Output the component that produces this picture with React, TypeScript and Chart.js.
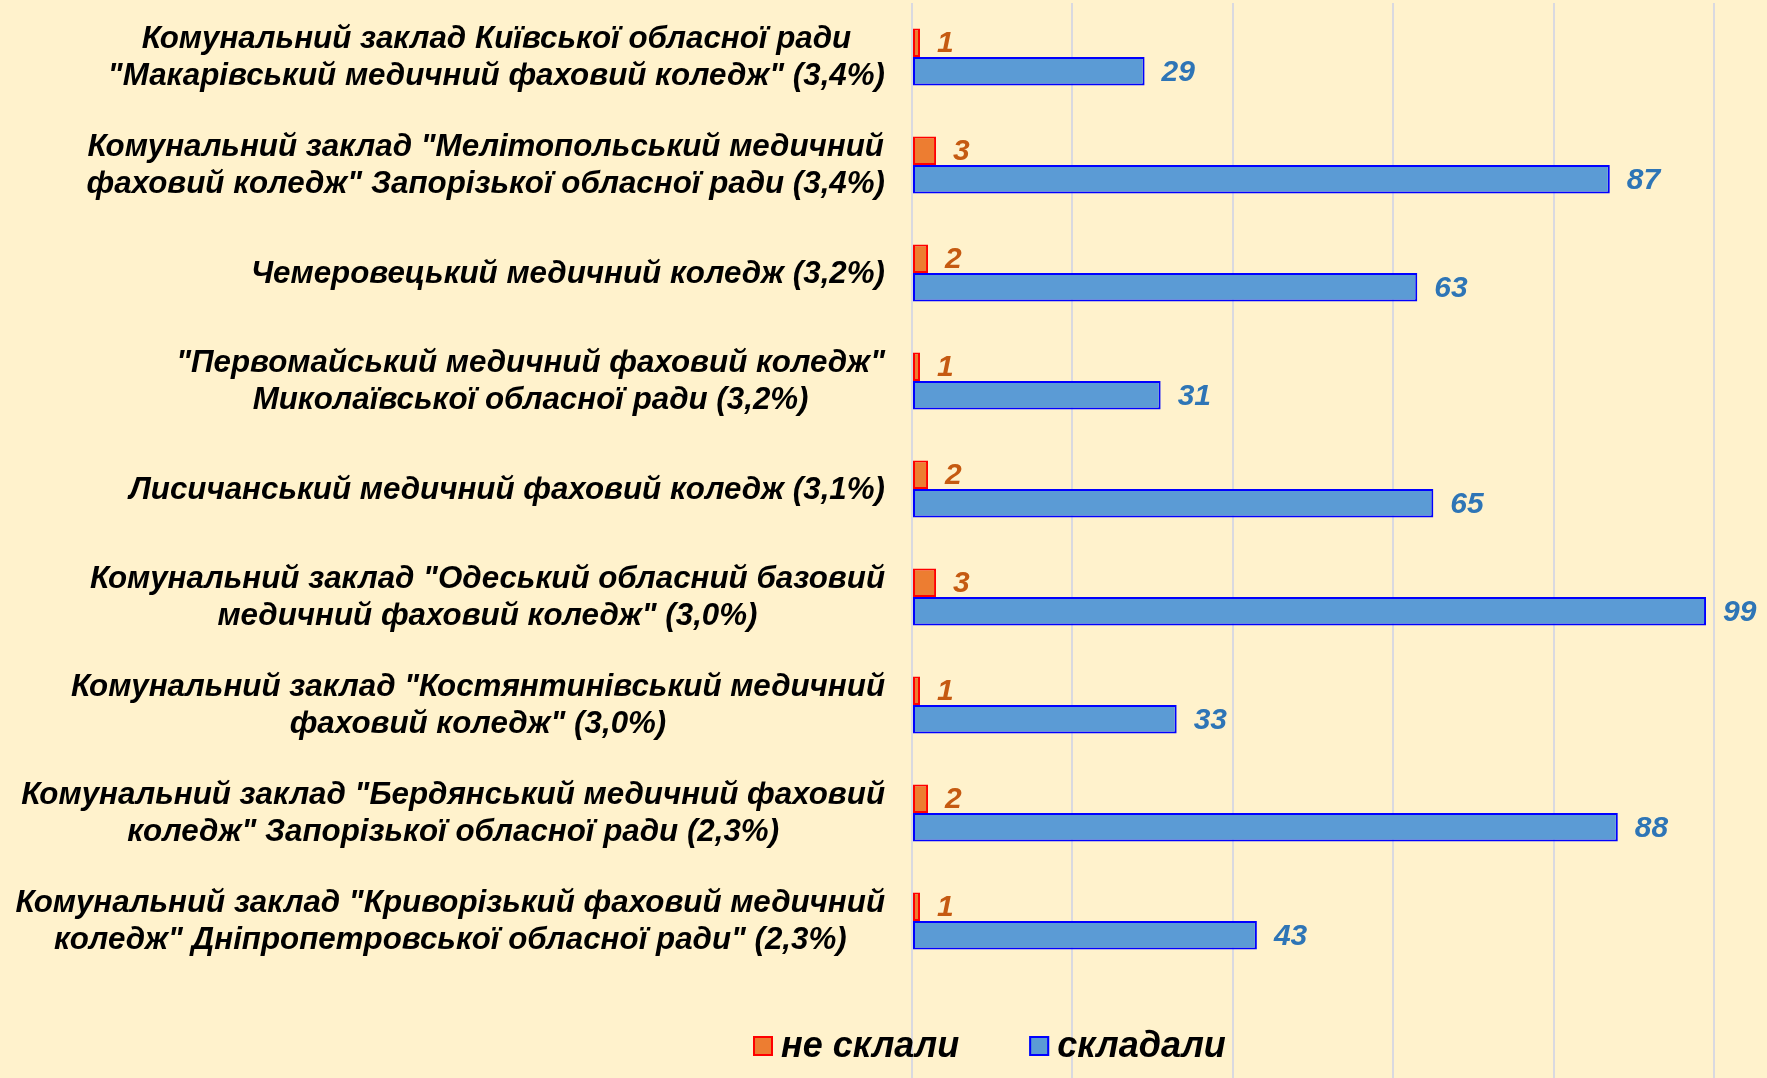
import React, { useEffect, useRef } from 'react';
import { Chart, registerables } from 'chart.js';

Chart.register(...registerables);

const categories: string[][] = [
  ['Комунальний заклад Київської обласної ради', '"Макарівський медичний фаховий коледж" (3,4%)'],
  ['Комунальний заклад "Мелітопольський медичний', 'фаховий коледж" Запорізької обласної ради (3,4%)'],
  ['Чемеровецький медичний коледж (3,2%)'],
  ['"Первомайський медичний фаховий коледж"', 'Миколаївської обласної ради (3,2%)'],
  ['Лисичанський медичний фаховий коледж (3,1%)'],
  ['Комунальний заклад "Одеський обласний базовий', 'медичний фаховий коледж" (3,0%)'],
  ['Комунальний заклад "Костянтинівський медичний', 'фаховий коледж" (3,0%)'],
  ['Комунальний заклад "Бердянський медичний фаховий', 'коледж" Запорізької обласної ради (2,3%)'],
  ['Комунальний заклад "Криворізький фаховий медичний', 'коледж" Дніпропетровської обласної ради" (2,3%)'],
];

const seriesNames = ['не склали', 'складали'];
const failedValues = [1, 3, 2, 1, 2, 3, 1, 2, 1];
const takenValues = [29, 87, 63, 31, 65, 99, 33, 88, 43];
const gridTicks = [0, 20, 40, 60, 80, 100];

const FONT = "'Liberation Sans', Arial, sans-serif";
const BG = '#FFF2CC';
const GRID = '#D9D9E0';
const labelColors = ['#C55A11', '#2E75B6'];

const extendGrid = {
  id: 'extendGrid',
  beforeDraw(chart: any) {
    const { ctx, chartArea, scales } = chart;
    const x = scales.x;
    ctx.save();
    ctx.strokeStyle = GRID;
    ctx.lineWidth = 2;
    for (const t of gridTicks) {
      const px = Math.round(x.getPixelForValue(t));
      ctx.beginPath();
      ctx.moveTo(px, chartArea.bottom);
      ctx.lineTo(px, chart.height);
      ctx.stroke();
    }
    ctx.restore();
  },
};

const categoryLabels = {
  id: 'categoryLabels',
  afterDraw(chart: any) {
    const { ctx, scales } = chart;
    const y = scales.y;
    const labels = chart.data.labels as string[][];
    ctx.save();
    ctx.font = `italic bold 31.3px ${FONT}`;
    ctx.fillStyle = '#000000';
    ctx.textAlign = 'center';
    ctx.textBaseline = 'middle';
    const right = y.right - 27;
    labels.forEach((lines, i) => {
      const cy = y.getPixelForValue(i);
      const w = Math.max(...lines.map((l) => ctx.measureText(l).width));
      const cx = right - w / 2;
      lines.forEach((l, j) => {
        ctx.fillText(l, cx, cy + 1 + (j - (lines.length - 1) / 2) * 36.5);
      });
    });
    ctx.restore();
  },
};

const valueLabels = {
  id: 'valueLabels',
  afterDatasetsDraw(chart: any) {
    const { ctx } = chart;
    ctx.save();
    ctx.font = `italic bold 30px ${FONT}`;
    ctx.textAlign = 'left';
    ctx.textBaseline = 'middle';
    chart.data.datasets.forEach((ds: any, i: number) => {
      const meta = chart.getDatasetMeta(i);
      ctx.fillStyle = labelColors[i];
      meta.data.forEach((bar: any, j: number) => {
        ctx.fillText(String(ds.data[j]), bar.x + 17, bar.y + 1);
      });
    });
    ctx.restore();
  },
};

const customLegend = {
  id: 'customLegend',
  afterDraw(chart: any) {
    const { ctx } = chart;
    ctx.save();
    ctx.font = `italic bold 36px ${FONT}`;
    ctx.textAlign = 'left';
    ctx.textBaseline = 'middle';
    const cy = chart.height - 32;
    let x = 753;
    chart.data.datasets.forEach((ds: any) => {
      ctx.fillStyle = ds.backgroundColor;
      ctx.fillRect(x, cy - 10, 20, 20);
      ctx.strokeStyle = ds.borderColor;
      ctx.lineWidth = 2;
      ctx.strokeRect(x + 1, cy - 9, 18, 18);
      ctx.fillStyle = '#000000';
      ctx.fillText(ds.label, x + 28, cy + 1);
      x += 28 + ctx.measureText(ds.label).width + 70;
    });
    ctx.restore();
  },
};

export default function App() {
  const canvasRef = useRef<HTMLCanvasElement | null>(null);

  useEffect(() => {
    if (!canvasRef.current) return;
    const chart = new Chart(canvasRef.current, {
      type: 'bar',
      data: {
        labels: categories,
        datasets: [
          {
            label: seriesNames[0],
            data: failedValues,
            backgroundColor: '#ED7D31',
            borderColor: '#FF0000',
            borderWidth: 2,
            borderSkipped: false,
            categoryPercentage: 0.53,
            barPercentage: 1,
          },
          {
            label: seriesNames[1],
            data: takenValues,
            backgroundColor: '#5B9BD5',
            borderColor: '#0000FF',
            borderWidth: 2,
            borderSkipped: false,
            categoryPercentage: 0.53,
            barPercentage: 1,
          },
        ],
      },
      options: {
        indexAxis: 'y',
        responsive: true,
        maintainAspectRatio: false,
        animation: false,
        layout: { padding: { top: 3, bottom: 103, left: 0, right: 0 } },
        plugins: {
          legend: { display: false },
          tooltip: { enabled: false },
        },
        scales: {
          x: {
            type: 'linear',
            min: 0,
            max: 106.6,
            grid: { color: GRID, lineWidth: 2, drawTicks: false },
            border: { display: false },
            ticks: { display: false },
            afterBuildTicks: (scale: any) => {
              scale.ticks = gridTicks.map((v) => ({ value: v }));
            },
            afterFit: (scale: any) => {
              scale.height = 0;
            },
          },
          y: {
            type: 'category',
            grid: { display: false },
            border: { display: false },
            ticks: { display: false },
            afterFit: (scale: any) => {
              scale.width = 912;
            },
          },
        },
      },
      plugins: [extendGrid, categoryLabels, valueLabels, customLegend],
    } as any);
    return () => chart.destroy();
  }, []);

  return (
    <div
      style={{
        position: 'fixed',
        left: 0,
        top: 0,
        width: '1767px',
        height: '1078px',
        background: BG,
      }}
    >
      <canvas ref={canvasRef} />
    </div>
  );
}
